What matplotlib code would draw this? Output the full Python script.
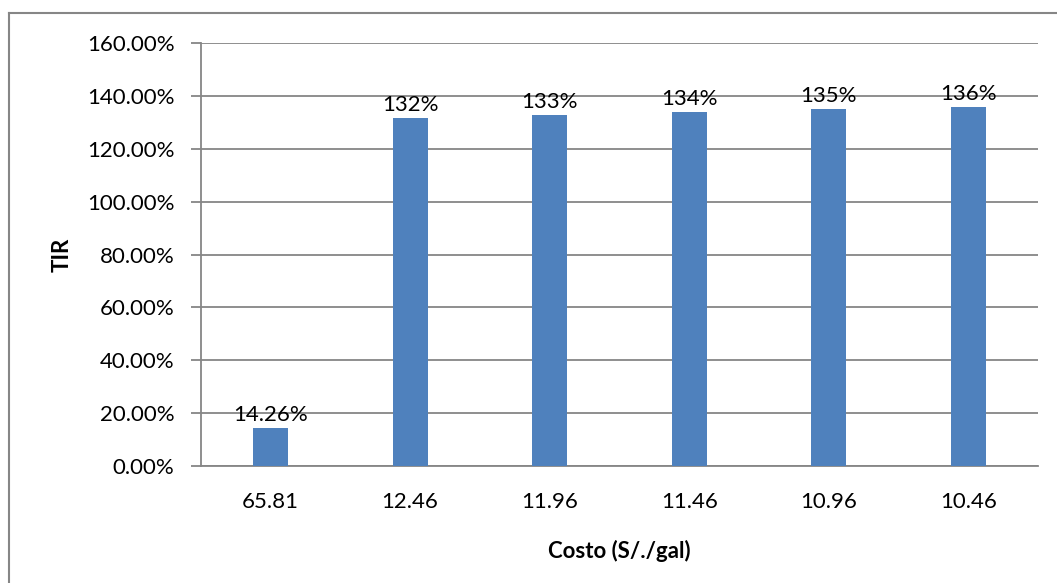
import numpy as np
import matplotlib.pyplot as plt
from matplotlib.lines import Line2D

plt.rcParams['font.family'] = ['Lato', 'DejaVu Sans']

# TIR por costo del producto
costos = ['65.81', '12.46', '11.96', '11.46', '10.96', '10.46']
tir = [0.1426, 1.316, 1.328, 1.339, 1.349, 1.359]
etiquetas = ['14.26%', '132%', '133%', '134%', '135%', '136%']

fs = 16

fig = plt.figure(figsize=(10.57, 5.83), dpi=100)
ax = fig.add_axes([0.190, 0.2007, 0.792, 0.7253])

x = np.arange(len(costos))
ax.bar(x, tir, width=0.25, color='#4F81BD', zorder=3)
for xi, v, lab in zip(x, tir, etiquetas):
    ax.text(xi, v + 0.012, lab, ha='center', va='bottom', fontsize=fs, zorder=4)

ax.set_xlim(-0.5, len(costos) - 0.5)
ax.set_ylim(0, 1.6)
ax.set_yticks(np.arange(0, 1.61, 0.2))
ax.set_yticklabels(['%.2f%%' % (t * 100) for t in np.arange(0, 1.61, 0.2)])
ax.set_xticks(x)
ax.set_xticklabels(costos)
ax.yaxis.grid(True, color='#868686', linewidth=1.3, zorder=0)

for s in ['top', 'right']:
    ax.spines[s].set_visible(False)
for s in ['left', 'bottom']:
    ax.spines[s].set_color('#868686')
    ax.spines[s].set_linewidth(1.3)

ax.tick_params(axis='y', length=7, width=1.3, color='#868686', pad=12, labelsize=fs)
ax.tick_params(axis='x', length=0, pad=19, labelsize=fs)

ax.set_ylabel('TIR', fontsize=fs, fontweight='bold', labelpad=10)
ax.set_xlabel('Costo (S/./gal)', fontsize=fs, fontweight='bold', labelpad=20)

# marco exterior del grafico
fig.add_artist(Line2D([9 / 1057, 9 / 1057], [0, 1 - 13 / 583], transform=fig.transFigure,
                      color='#868686', linewidth=1.5))
fig.add_artist(Line2D([9 / 1057, 1], [1 - 13 / 583, 1 - 13 / 583], transform=fig.transFigure,
                      color='#868686', linewidth=1.5))

fig.savefig('out.png', dpi=100)
